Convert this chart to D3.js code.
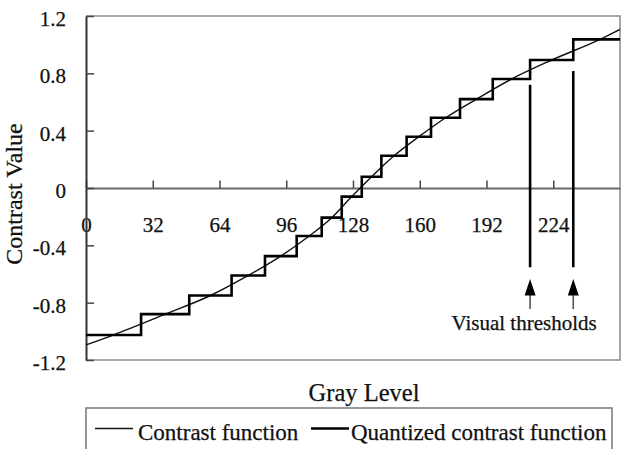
<!DOCTYPE html>
<html>
<head>
<meta charset="utf-8">
<script src="https://cdn.jsdelivr.net/npm/d3@7"></script>
<style>
  body { margin: 0; background: #fff; }
  text { font-family: "Liberation Serif", "Times New Roman", serif; fill: #111; stroke: #111; stroke-width: 0.25px; }
</style>
</head>
<body>
<div id="chart"></div>
<script>
// values
const grayTicks = [0, 32, 64, 96, 128, 160, 192, 224];
const contrastTicks = [-1.2, -0.8, -0.4, 0, 0.4, 0.8, 1.2];

// smooth contrast function
const curveGray = [0, 13, 38, 59.7, 77.8, 93.4, 107, 117.8, 127.4, 136.9, 147.7, 159.6, 172.4, 187.2, 204, 223.3, 246.4, 256];
const curveValue = [-1.095, -1.026, -0.88, -0.75, -0.61, -0.475, -0.335, -0.207, -0.06, 0.079, 0.225, 0.358, 0.49, 0.62, 0.76, 0.893, 1.037, 1.107];

// quantized contrast function: where each step starts and its level
const stepStart = [0, 26.4, 49.5, 69.8, 85.8, 101.0, 113.0, 122.6, 132.2, 141.6, 153.7, 165.4, 179.3, 195.0, 212.9, 233.6];
const stepLevel = [-1.026, -0.88, -0.75, -0.61, -0.475, -0.335, -0.207, -0.06, 0.079, 0.225, 0.358, 0.49, 0.62, 0.76, 0.893, 1.037];
const grayMax = 256;

// visual thresholds
const thresholds = [212.9, 233.6];
const thresholdTop = [0.72, 0.816];

window.onload = () => {
    const w = 625, h = 449;
    const left = 86, right = 620, top = 16, bottom = 360;

    const x = d3.scaleLinear().domain([0, grayMax]).range([left, right]);
    const y = d3.scaleLinear().domain([-1.2, 1.2]).range([bottom, top]);

    const svg = d3.select("#chart").append("svg")
        .attr("width", w)
        .attr("height", h);

    svg.append("rect").attr("width", w).attr("height", h).attr("fill", "#fff");

    // frame (top, right, bottom)
    svg.append("path")
        .attr("d", `M${left},${top}H${right}V${bottom}H${left}`)
        .attr("fill", "none")
        .attr("stroke", "#8a8a8a")
        .attr("stroke-width", 1.5);

    // x axis sits on the zero line, ticks point up, labels below inside the plot
    const xAxis = d3.axisBottom(x)
        .tickValues(grayTicks)
        .tickSizeInner(-7.5)
        .tickSizeOuter(0)
        .tickFormat(d => String(d));

    const gx = svg.append("g")
        .attr("transform", `translate(0,${y(0)})`)
        .call(xAxis);
    gx.select(".domain").attr("stroke", "#6a6a6a").attr("stroke-width", 2);
    gx.selectAll(".tick line").attr("stroke", "#444").attr("stroke-width", 1.5);
    gx.selectAll(".tick text")
        .attr("y", 29)
        .attr("dy", "0.71em")
        .style("font-size", "21px")
        .style("font-family", "Liberation Serif")
        .attr("fill", "#111");

    const yAxis = d3.axisLeft(y)
        .tickValues(contrastTicks)
        .tickSizeInner(-8)
        .tickSizeOuter(0)
        .tickPadding(20)
        .tickFormat(d => String(d));

    const gy = svg.append("g")
        .attr("transform", `translate(${left},0)`)
        .call(yAxis);
    gy.select(".domain").attr("stroke", "#333").attr("stroke-width", 2);
    gy.selectAll(".tick line").attr("stroke", "#444").attr("stroke-width", 1.5);
    gy.selectAll(".tick text")
        .attr("dy", "0.45em")
        .style("font-size", "21px")
        .style("font-family", "Liberation Serif")
        .attr("fill", "#111");

    // contrast function
    const curvePts = curveGray.map((g, i) => [g, curveValue[i]]);
    svg.append("path")
        .datum(curvePts)
        .attr("fill", "none")
        .attr("stroke", "#111")
        .attr("stroke-width", 1.4)
        .attr("d", d3.line().x(d => x(d[0])).y(d => y(d[1])).curve(d3.curveMonotoneX));

    // quantized contrast function
    const stepPts = stepStart.map((g, i) => [g, stepLevel[i]]);
    stepPts.push([grayMax, stepLevel[stepLevel.length - 1]]);
    svg.append("path")
        .datum(stepPts)
        .attr("fill", "none")
        .attr("stroke", "#000")
        .attr("stroke-width", 2.6)
        .attr("stroke-linejoin", "miter")
        .attr("d", d3.line().x(d => x(d[0])).y(d => y(d[1])).curve(d3.curveStepAfter));

    // threshold markers
    svg.selectAll(".thr")
        .data(thresholds)
        .enter()
        .append("line")
        .attr("x1", d => x(d)).attr("x2", d => x(d))
        .attr("y1", (d, i) => y(thresholdTop[i]))
        .attr("y2", y(-0.553))
        .attr("stroke", "#000")
        .attr("stroke-width", 2.6);

    svg.selectAll(".shaft")
        .data(thresholds)
        .enter()
        .append("line")
        .attr("x1", d => x(d)).attr("x2", d => x(d))
        .attr("y1", y(-0.7))
        .attr("y2", y(-0.845))
        .attr("stroke", "#555")
        .attr("stroke-width", 1.6);

    svg.selectAll(".head")
        .data(thresholds)
        .enter()
        .append("path")
        .attr("d", d => {
            const cx = x(d), tip = y(-0.635), base = y(-0.75);
            return `M${cx},${tip}L${cx - 5.5},${base}L${cx + 5.5},${base}Z`;
        })
        .attr("fill", "#000");

    svg.append("text")
        .attr("x", x(thresholds[0]) - 6)
        .attr("y", 330)
        .attr("text-anchor", "middle")
        .style("font-size", "21px")
        .text("Visual thresholds");

    // axis titles
    svg.append("text")
        .attr("transform", `translate(22,${(top + bottom) / 2 + 6}) rotate(-90)`)
        .attr("text-anchor", "middle")
        .style("font-size", "24px")
        .text("Contrast Value");

    svg.append("text")
        .attr("x", (left + right) / 2 + 11)
        .attr("y", 401)
        .attr("text-anchor", "middle")
        .style("font-size", "24.5px")
        .text("Gray Level");

    // legend
    const lg = svg.append("g");
    lg.append("rect")
        .attr("x", 86).attr("y", 408)
        .attr("width", 526).attr("height", 44)
        .attr("fill", "#fff")
        .attr("stroke", "#777")
        .attr("stroke-width", 1.5);
    lg.append("line")
        .attr("x1", 95).attr("x2", 133).attr("y1", 428.5).attr("y2", 428.5)
        .attr("stroke", "#111").attr("stroke-width", 1.4);
    lg.append("text")
        .attr("x", 138).attr("y", 440)
        .style("font-size", "23px")
        .text("Contrast function");
    lg.append("line")
        .attr("x1", 311).attr("x2", 349).attr("y1", 428.5).attr("y2", 428.5)
        .attr("stroke", "#000").attr("stroke-width", 2.6);
    lg.append("text")
        .attr("x", 351).attr("y", 440)
        .style("font-size", "23px")
        .text("Quantized contrast function");
};
</script>
</body>
</html>
